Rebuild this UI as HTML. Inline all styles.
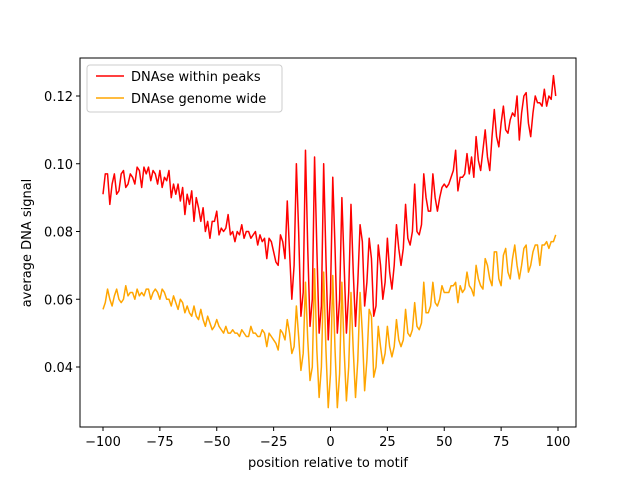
<!DOCTYPE html>
<html><head><meta charset="utf-8"><style>
body{margin:0;background:#fff}
svg text{font-family:"DejaVu Sans","Liberation Sans",sans-serif;font-size:13px;fill:#000}
</style></head><body>
<svg id="chart" width="640" height="480" xmlns="http://www.w3.org/2000/svg">
<rect x="0" y="0" width="640" height="480" fill="#fff"/>
<g id="plot"></g>
<rect x="80" y="58" width="496" height="369" fill="none" stroke="#000" stroke-width="1"/>
<g id="xticks"></g><g id="yticks"></g>
<text x="328" y="467" text-anchor="middle">position relative to motif</text>
<text transform="translate(31,243) rotate(-90)" text-anchor="middle">average DNA signal</text>
<g>
<rect x="87" y="65" width="195" height="47" rx="3" fill="#fff" fill-opacity="0.8" stroke="#ccc"/>
<line x1="96" y1="76" x2="124" y2="76" stroke="red" stroke-width="1.5"/>
<text x="131" y="81">DNAse within peaks</text>
<line x1="96" y1="98" x2="124" y2="98" stroke="orange" stroke-width="1.5"/>
<text x="131" y="103">DNAse genome wide</text>
</g>
</svg>
<script>
const xTickValues=[-100,-75,-50,-25,0,25,50,75,100];
const yTickValues=[0.04,0.06,0.08,0.10,0.12];
const peaksSeries=[
0.091,0.097,0.097,0.088,0.094,0.097,0.091,0.092,0.097,0.098,0.093,0.094,0.097,0.096,0.094,0.099,0.098,0.093,0.099,0.097,
0.099,0.095,0.098,0.097,0.094,0.098,0.093,0.096,0.095,0.098,0.090,0.094,0.091,0.094,0.089,0.093,0.085,0.091,0.088,0.092,
0.083,0.090,0.087,0.083,0.087,0.080,0.083,0.078,0.083,0.083,0.086,0.079,0.081,0.080,0.081,0.085,0.079,0.080,0.077,0.080,
0.079,0.082,0.078,0.080,0.080,0.078,0.079,0.080,0.076,0.079,0.077,0.078,0.072,0.078,0.077,0.074,0.071,0.070,0.079,0.077,
0.072,0.089,0.074,0.060,0.070,0.100,0.080,0.055,0.062,0.104,0.075,0.052,0.060,0.102,0.075,0.050,0.058,0.100,0.072,0.048,
0.062,0.096,0.075,0.050,0.060,0.090,0.070,0.050,0.062,0.088,0.068,0.052,0.065,0.082,0.077,0.058,0.065,0.078,0.072,0.055,
0.058,0.076,0.070,0.060,0.065,0.078,0.068,0.063,0.070,0.082,0.075,0.070,0.075,0.088,0.078,0.076,0.080,0.094,0.080,0.079,
0.082,0.097,0.090,0.086,0.086,0.097,0.090,0.086,0.090,0.093,0.094,0.093,0.094,0.096,0.098,
0.104,0.092,0.096,0.096,0.097,0.103,0.097,0.102,0.096,0.108,0.101,0.098,0.104,0.110,0.102,0.098,0.108,0.116,0.108,0.105,
0.112,0.117,0.110,0.109,0.113,0.115,0.114,0.120,0.107,0.115,0.120,0.121,0.112,0.108,0.115,0.120,0.118,0.118,0.117,0.122,
0.117,0.120,0.119,0.126,0.120];
const genomeSeries=[
0.057,0.059,0.063,0.060,0.058,0.061,0.063,0.060,0.059,0.060,0.064,0.061,0.062,0.062,0.060,0.063,0.061,0.062,0.061,0.063,
0.063,0.060,0.062,0.063,0.062,0.060,0.063,0.062,0.060,0.060,0.058,0.061,0.059,0.057,0.060,0.059,0.056,0.058,0.056,0.055,
0.058,0.055,0.054,0.057,0.054,0.052,0.055,0.053,0.051,0.052,0.054,0.052,0.051,0.050,0.052,0.050,0.050,0.051,0.050,0.050,
0.049,0.051,0.050,0.049,0.049,0.052,0.050,0.050,0.049,0.049,0.051,0.050,0.046,0.050,0.049,0.048,0.047,0.045,0.051,0.050,
0.048,0.054,0.050,0.044,0.046,0.058,0.049,0.039,0.044,0.065,0.048,0.036,0.040,0.069,0.045,0.031,0.040,0.068,0.045,0.028,
0.038,0.067,0.045,0.028,0.038,0.065,0.045,0.030,0.040,0.062,0.045,0.031,0.042,0.062,0.050,0.033,0.042,0.057,0.055,0.037,
0.040,0.052,0.046,0.041,0.044,0.052,0.046,0.043,0.046,0.054,0.048,0.046,0.048,0.057,0.050,0.049,0.051,0.059,0.052,0.051,
0.053,0.065,0.056,0.056,0.058,0.065,0.059,0.058,0.060,0.064,0.062,0.062,0.062,0.064,0.064,
0.065,0.059,0.064,0.062,0.063,0.068,0.064,0.063,0.061,0.070,0.066,0.064,0.063,0.072,0.070,0.066,0.064,0.074,0.074,0.066,
0.064,0.073,0.075,0.068,0.066,0.072,0.076,0.070,0.066,0.070,0.075,0.076,0.068,0.070,0.074,0.076,0.076,0.070,0.076,0.076,
0.077,0.075,0.077,0.077,0.079];
const xStart=-100;
const NS="http://www.w3.org/2000/svg";
function xScale(v){return 103+(v+100)*2.275;}
function yScale(v){return 96+(0.12-v)*3387.5;}
const plot=document.getElementById('plot');
function drawLine(vals,color,name){
  const p=document.createElementNS(NS,'polyline');
  p.setAttribute('points',vals.map((v,i)=>xScale(xStart+i).toFixed(2)+','+yScale(v).toFixed(2)).join(' '));
  p.setAttribute('fill','none');p.setAttribute('stroke',color);p.setAttribute('stroke-width','1.5');
  p.setAttribute('stroke-linejoin','round');
  
  
  plot.appendChild(p);
}
drawLine(peaksSeries,'red','line-dnase-within-peaks');
drawLine(genomeSeries,'orange','line-dnase-genome-wide');
const xt=document.getElementById('xticks');
xTickValues.forEach(v=>{
  const x=xScale(v);
  const l=document.createElementNS(NS,'line');
  l.setAttribute('x1',x);l.setAttribute('x2',x);l.setAttribute('y1',427);l.setAttribute('y2',431);l.setAttribute('stroke','#000');
  
  
  xt.appendChild(l);
  const t=document.createElementNS(NS,'text');
  t.setAttribute('x',x);t.setAttribute('y',446);t.setAttribute('text-anchor','middle');
  t.textContent=v<0?'\u2212'+(-v):String(v);
  
  
  xt.appendChild(t);
});
const yt=document.getElementById('yticks');
yTickValues.forEach(v=>{
  const y=yScale(v);
  const l=document.createElementNS(NS,'line');
  l.setAttribute('x1',76);l.setAttribute('x2',80);l.setAttribute('y1',y);l.setAttribute('y2',y);l.setAttribute('stroke','#000');
  
  
  yt.appendChild(l);
  const t=document.createElementNS(NS,'text');
  t.setAttribute('x',73);t.setAttribute('y',y+5);t.setAttribute('text-anchor','end');
  t.textContent=v.toFixed(2);
  
  
  yt.appendChild(t);
});
</script>
</body></html>
